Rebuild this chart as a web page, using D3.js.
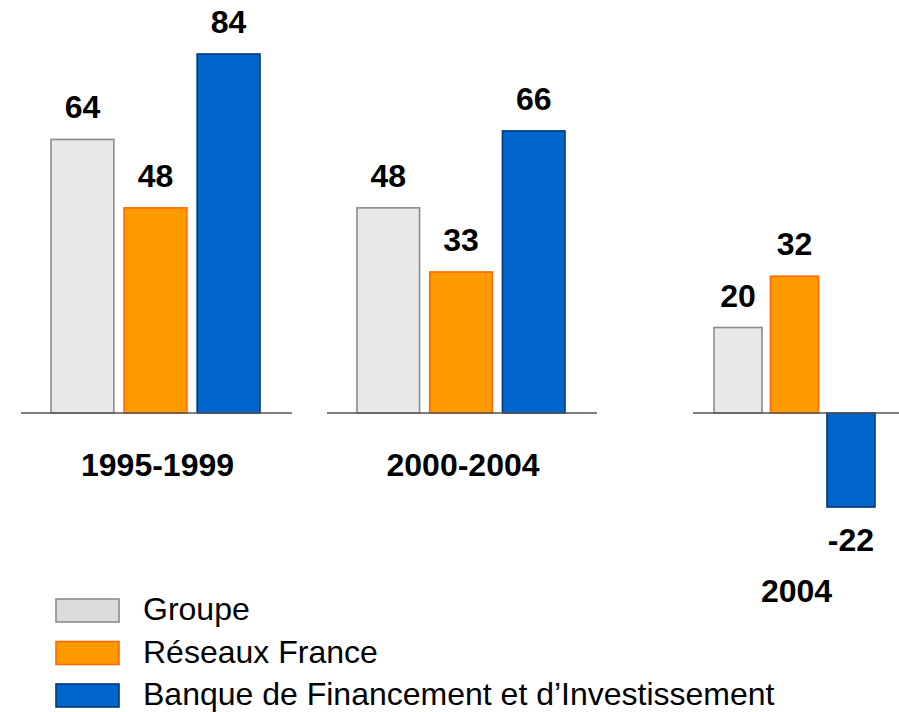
<!DOCTYPE html>
<html>
<head>
<meta charset="utf-8">
<script src="https://cdn.jsdelivr.net/npm/d3@7"></script>
<style>
  body { margin: 0; background: #fff; }
  text { font-family: Arial, "Liberation Sans", sans-serif; }
</style>
</head>
<body>
<div id="svg"></div>
<script>
// data
var periods = ["1995-1999", "2000-2004", "2004"];
var series = ["Groupe", "Réseaux France", "Banque de Financement et d\u2019Investissement"];
var groupeVals = [64, 48, 20];
var reseauxVals = [48, 33, 32];
var bfiVals = [84, 66, -22];

var values = [groupeVals, reseauxVals, bfiVals];
var fills = ["#e8e8e8", "#ff9900", "#0066cc"];
var strokes = ["#8c8c8c", "#ff6a00", "#003a78"];
var legendFills = ["#dcdcdc", "#ff9900", "#0066cc"];

var width = 899, height = 712;

// each period gets its own little block: bars extent and baseline extent
var blocks = [
    {bars: [51, 260], line: [21, 292], pad: 0.14, labelY: 476},
    {bars: [357, 565], line: [327, 597], pad: 0.14, labelY: 476},
    {bars: [714, 875], line: [693, 899], pad: 0.15, labelY: 602}
];

var svg = d3.select("#svg").append("svg")
    .attr("width", width)
    .attr("height", height);

var y = d3.scaleLinear()
    .domain([0, 84])
    .range([413, 54]);

periods.forEach(function(p, i) {
    var b = blocks[i];
    var x = d3.scaleBand()
        .domain(series)
        .range(b.bars)
        .paddingInner(b.pad)
        .paddingOuter(0);

    var g = svg.append("g");

    var rows = series.map(function(s, j) {
        return {s: s, v: values[j][i], j: j};
    });

    g.selectAll("rect")
        .data(rows)
        .enter().append("rect")
        .attr("x", d => x(d.s))
        .attr("width", x.bandwidth())
        .attr("y", d => Math.min(y(d.v), y(0)))
        .attr("height", d => Math.abs(y(d.v) - y(0)))
        .attr("fill", d => fills[d.j])
        .attr("stroke", d => strokes[d.j])
        .attr("stroke-width", 1.6);

    // baseline
    g.append("line")
        .attr("x1", b.line[0])
        .attr("x2", b.line[1])
        .attr("y1", y(0))
        .attr("y2", y(0))
        .attr("stroke", "#555")
        .attr("stroke-width", 1.5);

    // value labels
    g.selectAll(".val")
        .data(rows)
        .enter().append("text")
        .attr("class", "val")
        .attr("x", d => x(d.s) + x.bandwidth() / 2)
        .attr("y", d => d.v >= 0 ? y(d.v) - 21 : y(d.v) + 44)
        .attr("text-anchor", "middle")
        .attr("font-size", 32)
        .attr("font-weight", "bold")
        .text(d => d.v);

    // period label
    g.append("text")
        .attr("x", (b.bars[0] + b.bars[1]) / 2 + 2)
        .attr("y", b.labelY)
        .attr("text-anchor", "middle")
        .attr("font-size", 32)
        .attr("font-weight", "bold")
        .text(p);
});

// legend
var legend = svg.append("g").attr("transform", "translate(56,599)");
var item = legend.selectAll("g")
    .data(series)
    .enter().append("g")
    .attr("transform", (d, i) => "translate(0," + i * 42.5 + ")");

item.append("rect")
    .attr("width", 63)
    .attr("height", 23)
    .attr("fill", (d, i) => legendFills[i])
    .attr("stroke", (d, i) => strokes[i])
    .attr("stroke-width", 1.6);

item.append("text")
    .attr("x", 87)
    .attr("y", 21)
    .attr("font-size", 32)
    .text(d => d);
</script>
</body>
</html>
